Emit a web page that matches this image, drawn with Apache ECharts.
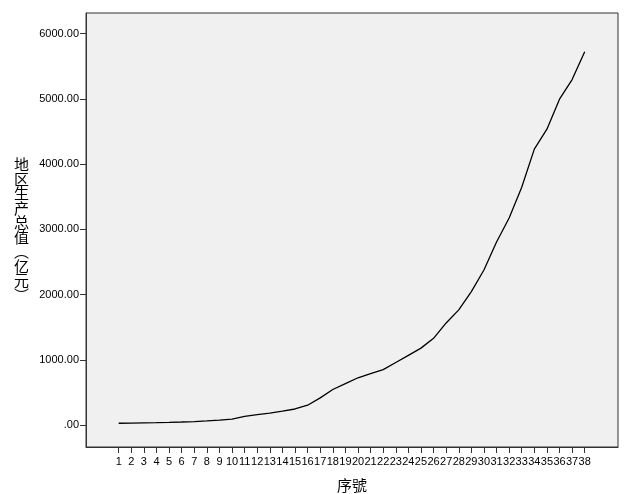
<!DOCTYPE html>
<html>
<head>
<meta charset="utf-8">
<script src="https://cdn.jsdelivr.net/npm/echarts@6/dist/echarts.min.js"></script>
<style>
html,body{margin:0;padding:0;background:#fff;}
#chart{width:626px;height:494px;}
</style>
</head>
<body>
<div id="chart"></div>
<script>
// Data
const categories = [1,2,3,4,5,6,7,8,9,10,11,12,13,14,15,16,17,18,19,20,21,22,23,24,25,26,27,28,29,30,31,32,33,34,35,36,37,38];
const gdpValues = [32,35,38,41,45,51,58,68,80,96,136,163,186,216,250,308,420,548,638,728,793,853,962,1072,1182,1332,1568,1768,2048,2378,2808,3175,3645,4230,4535,4995,5295,5720];
const yTicks = [0,1000,2000,3000,4000,5000,6000];
const yTitle = '地区生产总值︵亿元︶';
const xTitle = '序號';

const chart = echarts.init(document.getElementById('chart'), null, {renderer:'canvas'});
const axisColor = '#333';
const labelFont = {color:'#000', fontFamily:'"Liberation Sans", Arial, sans-serif', fontSize:11};

chart.setOption({
  animation:false,
  backgroundColor:'#fff',
  grid:{left:86, right:8, top:13, bottom:47, containLabel:false, outerBoundsMode:'none', show:true, backgroundColor:'#f0f0f0', borderColor:axisColor, borderWidth:1},
  xAxis:{
    type:'value', min:-1.596, max:40.644,
    name:xTitle, nameLocation:'middle', nameGap:31,
    nameTextStyle:{color:'#000', fontFamily:'"Noto Sans CJK TC","Noto Sans CJK SC",serif', fontSize:15},
    axisLine:{show:true, onZero:false, lineStyle:{color:axisColor, width:1}},
    axisTick:{show:true, length:6, lineStyle:{color:axisColor}, customValues:categories},
    axisLabel:Object.assign({show:true, margin:9, customValues:categories, formatter:v=>String(v)}, labelFont),
    splitLine:{show:false}
  },
  yAxis:{
    type:'value', min:-332, max:6314,
    name:yTitle.split('').join('\n'), nameLocation:'middle', nameRotate:0, nameGap:57,
    nameTextStyle:{color:'#000', fontFamily:'"Noto Sans CJK SC",serif', fontSize:15, lineHeight:14.5},
    axisLine:{show:true, onZero:false, lineStyle:{color:axisColor, width:1}},
    axisTick:{show:true, length:6, lineStyle:{color:axisColor}, customValues:yTicks},
    axisLabel:Object.assign({show:true, margin:7, customValues:yTicks, formatter:v=> v===0 ? '.00' : v.toFixed(2)}, labelFont),
    splitLine:{show:false}
  },
  series:[{
    type:'line',
    data:categories.map((c,i)=>[c, gdpValues[i]]),
    showSymbol:false, symbol:'none', smooth:false,
    lineStyle:{color:'#000', width:1.3},
    silent:true
  }]
});
</script>
</body>
</html>
